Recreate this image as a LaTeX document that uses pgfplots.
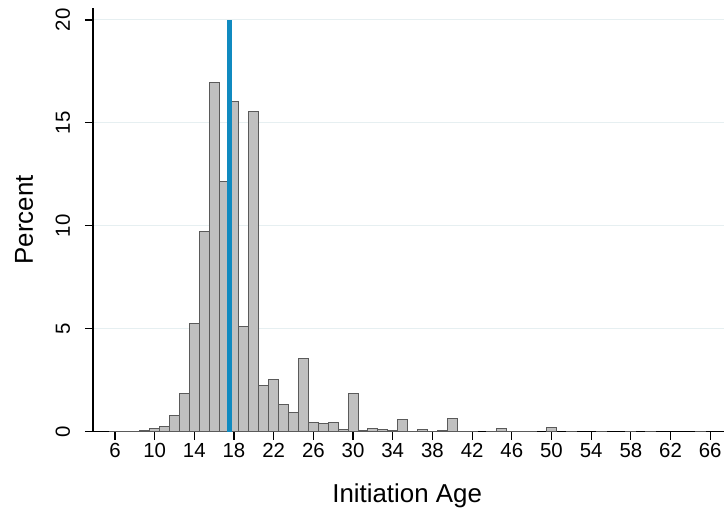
\documentclass[border=0pt]{standalone}
\usepackage{pgfplots}
\pgfplotsset{compat=1.18}
\usetikzlibrary{calc}
\usepackage{fontspec}
\setmainfont{Liberation Sans}
\definecolor{barfill}{RGB}{192,192,192}
\definecolor{barline}{RGB}{90,90,90}
\definecolor{gridc}{RGB}{230,239,241}
\definecolor{meanline}{RGB}{16,138,192}
\begin{document}
\begin{tikzpicture}
\begin{axis}[
  scale only axis,
  width=632bp, height=424bp,
  xmin=3.78, xmax=67.43,
  ymin=0, ymax=20.58,
  axis x line=bottom, axis y line=left,
  axis line style={-, line width=1.2bp, black},
  xtick={6,10,...,66},
  ytick={0,5,10,15,20},
  tick align=outside,
  major tick length=8bp,
  tick style={black, line width=1.2bp},
  ymajorgrids,
  grid style={gridc, line width=1bp},
  /pgf/number format/assume math mode=true,
  tick label style={font=\fontsize{20.5}{24}\selectfont},
  yticklabel style={xshift=-15bp, rotate=90, anchor=base, inner sep=0pt},
  xticklabel style={yshift=-18.3bp, anchor=base, inner sep=0pt},
  clip=false,
]
\addplot[ybar, bar width=1, fill=barfill, draw=barline, line width=1bp] coordinates {
(6,0.02) (7,0.02) (8,0.02) (9,0.04) (10,0.13) (11,0.23) (12,0.79) (13,1.84)
(14,5.26) (15,9.72) (16,16.97) (17,12.14) (18,16.02) (19,5.10) (20,15.55)
(21,2.23) (22,2.51) (23,1.31) (24,0.94) (25,3.54) (26,0.44) (27,0.39)
(28,0.42) (29,0.10) (30,1.83) (31,0.07) (32,0.16) (33,0.10) (34,0.07)
(35,0.61) (36,0.03) (37,0.08) (38,0.03) (39,0.07) (40,0.66) (41,0.02)
(42,0.02) (44,0.03) (45,0.13) (46,0.02) (47,0.02) (48,0.02) (50,0.18)
(52,0.02) (55,0.02) (58,0.02) (60,0.02) (65,0.02)
};
\addplot[meanline, line width=5bp] coordinates {(17.5,0) (17.5,20)};
\node[anchor=base, font=\fontsize{26}{30}\selectfont] at (axis description cs:0.4976,-0.1682) {Initiation Age};
\node[rotate=90, anchor=base, font=\fontsize{26}{30}\selectfont] at (axis description cs:-0.0949,0.5) {Percent};
\end{axis}
\path (current axis.south west) ++(-93bp,-79bp) rectangle ($(current axis.north east)+(0,8bp)$);
\end{tikzpicture}
\end{document}
